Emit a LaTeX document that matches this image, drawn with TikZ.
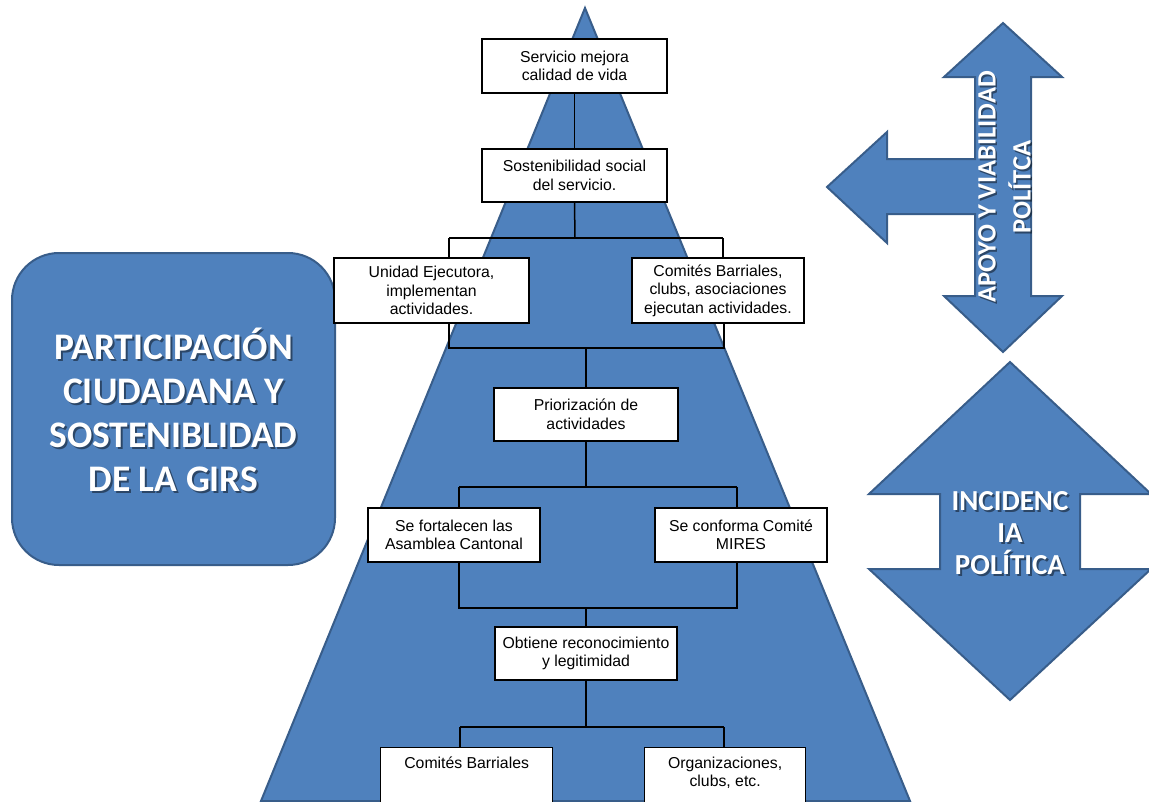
\documentclass[tikz,border=0pt]{standalone}
\usepackage{fontspec}
\setmainfont{Liberation Sans}
\newfontfamily\headfont{Carlito}
\usetikzlibrary{calc}
\definecolor{pyrblue}{RGB}{79,129,189}
\definecolor{pyredge}{RGB}{56,93,138}
\tikzset{
  stepbox/.style={draw=black, line width=1.3pt, fill=white, inner sep=0pt, align=center,
    font=\fontsize{15.8}{18.5}\selectfont},
  link/.style={draw=black, line width=1.5pt},
  bluepart/.style={fill=pyrblue, draw=pyredge, line width=2pt, line join=miter},
  bigtext/.style={text=white, align=center, font=\headfont\bfseries},
  bigshadow/.style={text=black, opacity=0.45, align=center, font=\headfont\bfseries}
}
\begin{document}
\begin{tikzpicture}[x=1pt,y=-1pt]
\useasboundingbox (0,0) rectangle (1149,801);
\clip (0,0) rectangle (1149,801);

% pyramid background
\draw[bluepart] (585,8) -- (910,801) -- (261,801) -- cycle;

% left title panel
\draw[bluepart, rounded corners=47pt] (12,253) rectangle (335,565);
\node[bigshadow, font=\headfont\bfseries\fontsize{37.5}{44}\selectfont] (titlesh) at (175.5,412)
  {PARTICIPACIÓN\\CIUDADANA Y\\SOSTENIBLIDAD\\DE LA GIRS};
\node[bigtext, font=\headfont\bfseries\fontsize{37.5}{44}\selectfont] (title) at (173.5,410)
  {PARTICIPACIÓN\\CIUDADANA Y\\SOSTENIBLIDAD\\DE LA GIRS};

% three-way arrow (up, down, left)
\draw[bluepart] (1003,23) -- (1062,77) -- (1031,77) -- (1031,296) -- (1062,296) -- (1003,352)
  -- (944,296) -- (975,296) -- (975,214) -- (887,214) -- (887,243) -- (827,187) -- (887,132)
  -- (887,159) -- (975,159) -- (975,77) -- (944,77) -- cycle;
\node[bigshadow, rotate=90, font=\headfont\bfseries\fontsize{26.5}{35}\selectfont] (apoyosh) at (1006,189)
  {APOYO Y VIABILIDAD\\POLÍTCA};
\node[bigtext, rotate=90, font=\headfont\bfseries\fontsize{26.5}{35}\selectfont] (apoyo) at (1004.5,187)
  {APOYO Y VIABILIDAD\\POLÍTCA};

% up-down arrow
\draw[bluepart] (1010,362) -- (1151,494) -- (1080,494) -- (1080,569) -- (1151,569) -- (1010,700)
  -- (869,569) -- (940,569) -- (940,494) -- (869,494) -- cycle;
\node[bigshadow, font=\headfont\bfseries\fontsize{29}{32}\selectfont] (incsh) at (1012,535)
  {INCIDENC\\IA\\POLÍTICA};
\node[bigtext, font=\headfont\bfseries\fontsize{29}{32}\selectfont] (inc) at (1010,533)
  {INCIDENC\\IA\\POLÍTICA};

% steps of the pyramid
\node[stepbox, minimum width=185pt, minimum height=54pt] (s1) at (574.5,66) {Servicio mejora\\calidad de vida};
\node[stepbox, minimum width=185pt, minimum height=53pt] (s2) at (574.5,175.5) {Sostenibilidad social\\del servicio.};
\node[stepbox, minimum width=195pt, minimum height=65pt] (u1) at (431.5,290.5) {Unidad Ejecutora,\\implementan\\actividades.};
\node[stepbox, minimum width=172pt, minimum height=65pt] (c1) at (718,290.5) {Comités Barriales,\\clubs, asociaciones\\ejecutan actividades.};
\node[stepbox, minimum width=184pt, minimum height=53pt] (p1) at (586,414.5) {Priorización de\\actividades};
\node[stepbox, minimum width=172pt, minimum height=54pt] (f1) at (454,535) {Se fortalecen las\\Asamblea Cantonal};
\node[stepbox, minimum width=172pt, minimum height=54pt] (m1) at (741,535) {Se conforma Comité\\MIRES};
\node[stepbox, minimum width=182pt, minimum height=53pt] (o1) at (586,653.5) {Obtiene reconocimiento\\y legitimidad};
\node[stepbox, minimum width=172pt, anchor=north west, inner ysep=9pt, text depth=45pt] (b1) at (380,747) {Comités Barriales};
\node[stepbox, minimum width=161pt, anchor=north west, inner ysep=9pt, text depth=25pt] (b2) at (644,747) {Organizaciones,\\clubs, etc.};

% junction points of the connectors
\coordinate (j1) at (575,238);  \coordinate (j1l) at (449,238); \coordinate (j1r) at (723,238);
\coordinate (j2) at (586,348);  \coordinate (j2l) at (449,348); \coordinate (j2r) at (724,348);
\coordinate (j3) at (586,487);  \coordinate (j3l) at (459,487); \coordinate (j3r) at (737,487);
\coordinate (j4) at (586,608);  \coordinate (j4l) at (459,608); \coordinate (j4r) at (737,608);
\coordinate (j5) at (586,727);  \coordinate (j5l) at (460,727); \coordinate (j5r) at (724,727);

% connectors
\draw[link] (s1.south) -- (s2.north);
\draw[link] (s2.south) -- (j1);
\draw[link] (j1l) -- (j1r);
\draw[link] (j1l) -- (j1l |- u1.north);
\draw[link] (j1r) -- (j1r |- c1.north);
\draw[link] (j2l |- u1.south) -- (j2l) -- (j2r) -- (j2r |- c1.south);
\draw[link] (j2) -- (p1.north);
\draw[link] (p1.south) -- (j3);
\draw[link] (j3l) -- (j3r);
\draw[link] (j3l) -- (j3l |- f1.north);
\draw[link] (j3r) -- (j3r |- m1.north);
\draw[link] (j4l |- f1.south) -- (j4l) -- (j4r) -- (j4r |- m1.south);
\draw[link] (j4) -- (o1.north);
\draw[link] (o1.south) -- (j5);
\draw[link] (j5l) -- (j5r);
\draw[link] (j5l) -- (j5l |- b1.north);
\draw[link] (j5r) -- (j5r |- b2.north);
\end{tikzpicture}
\end{document}
